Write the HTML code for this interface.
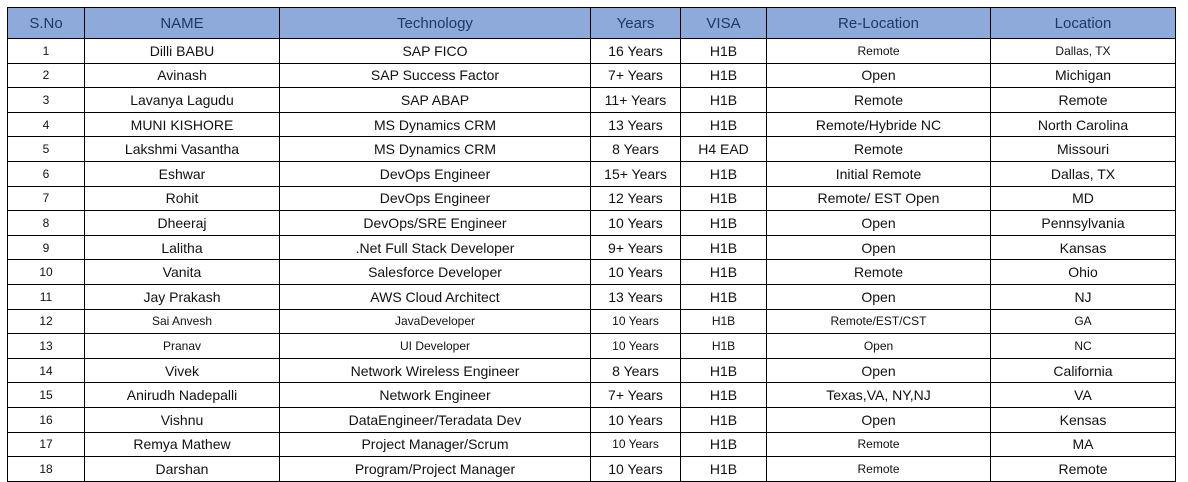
<!DOCTYPE html>
<html><head><meta charset="utf-8"><style>
html,body{margin:0;padding:0;background:#fff;width:1188px;height:482px;overflow:hidden}
table{position:absolute;left:7px;top:7px;border-collapse:collapse;table-layout:fixed;font-family:"Liberation Sans",sans-serif;font-size:14px;color:#111}
td,th{border:1px solid #000;text-align:center;padding:0;height:23.6px;white-space:nowrap;overflow:hidden}
th{background:#8eaadb;color:#1f3864;font-weight:normal;font-size:15px;height:30px}
td.s{font-size:12px}
tr.sm td{font-size:12px}
</style></head><body>
<table>
<colgroup><col style="width:77px"><col style="width:195px"><col style="width:311px"><col style="width:90px"><col style="width:86px"><col style="width:224px"><col style="width:185px"></colgroup>
<tr><th>S.No</th><th>NAME</th><th>Technology</th><th>Years</th><th>VISA</th><th>Re-Location</th><th>Location</th></tr>
<tr><td class="s">1</td><td>Dilli BABU</td><td>SAP FICO</td><td>16 Years</td><td>H1B</td><td class="s">Remote</td><td class="s">Dallas, TX</td></tr>
<tr><td class="s">2</td><td>Avinash</td><td>SAP Success Factor</td><td>7+ Years</td><td>H1B</td><td>Open</td><td>Michigan</td></tr>
<tr><td class="s">3</td><td>Lavanya Lagudu</td><td>SAP ABAP</td><td>11+ Years</td><td>H1B</td><td>Remote</td><td>Remote</td></tr>
<tr><td class="s">4</td><td>MUNI KISHORE</td><td>MS Dynamics CRM</td><td>13 Years</td><td>H1B</td><td>Remote/Hybride NC</td><td>North Carolina</td></tr>
<tr><td class="s">5</td><td>Lakshmi Vasantha</td><td>MS Dynamics CRM</td><td>8 Years</td><td>H4 EAD</td><td>Remote</td><td>Missouri</td></tr>
<tr><td class="s">6</td><td>Eshwar</td><td>DevOps Engineer</td><td>15+ Years</td><td>H1B</td><td>Initial Remote</td><td>Dallas, TX</td></tr>
<tr><td class="s">7</td><td>Rohit</td><td>DevOps Engineer</td><td>12 Years</td><td>H1B</td><td>Remote/ EST Open</td><td>MD</td></tr>
<tr><td class="s">8</td><td>Dheeraj</td><td>DevOps/SRE Engineer</td><td>10 Years</td><td>H1B</td><td>Open</td><td>Pennsylvania</td></tr>
<tr><td class="s">9</td><td>Lalitha</td><td>.Net Full Stack Developer</td><td>9+ Years</td><td>H1B</td><td>Open</td><td>Kansas</td></tr>
<tr><td class="s">10</td><td>Vanita</td><td>Salesforce Developer</td><td>10 Years</td><td>H1B</td><td>Remote</td><td>Ohio</td></tr>
<tr><td class="s">11</td><td>Jay Prakash</td><td>AWS Cloud Architect</td><td>13 Years</td><td>H1B</td><td>Open</td><td>NJ</td></tr>
<tr class="sm"><td>12</td><td>Sai Anvesh</td><td>JavaDeveloper</td><td>10 Years</td><td>H1B</td><td>Remote/EST/CST</td><td>GA</td></tr>
<tr class="sm"><td>13</td><td>Pranav</td><td>UI Developer</td><td>10 Years</td><td>H1B</td><td>Open</td><td>NC</td></tr>
<tr><td class="s">14</td><td>Vivek</td><td>Network Wireless Engineer</td><td>8 Years</td><td>H1B</td><td>Open</td><td>California</td></tr>
<tr><td class="s">15</td><td>Anirudh Nadepalli</td><td>Network Engineer</td><td>7+ Years</td><td>H1B</td><td>Texas,VA, NY,NJ</td><td>VA</td></tr>
<tr><td class="s">16</td><td>Vishnu</td><td>DataEngineer/Teradata Dev</td><td>10 Years</td><td>H1B</td><td>Open</td><td>Kensas</td></tr>
<tr><td class="s">17</td><td>Remya Mathew</td><td>Project Manager/Scrum</td><td class="s">10 Years</td><td>H1B</td><td class="s">Remote</td><td>MA</td></tr>
<tr><td class="s">18</td><td>Darshan</td><td>Program/Project Manager</td><td>10 Years</td><td>H1B</td><td class="s">Remote</td><td>Remote</td></tr>
</table>
</body></html>
